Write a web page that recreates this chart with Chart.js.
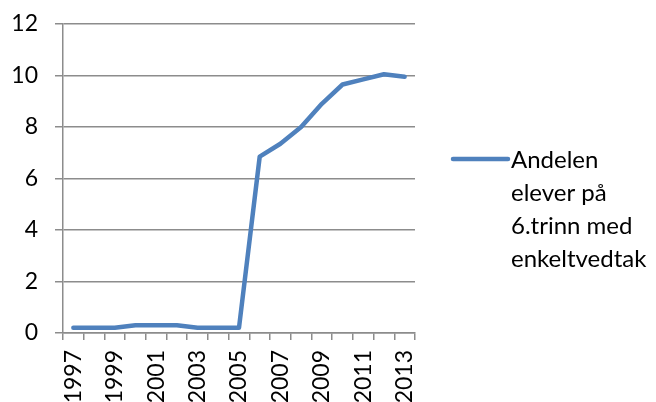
<!DOCTYPE html>
<html>
<head>
<meta charset="utf-8">
<script src="https://cdn.jsdelivr.net/npm/chart.js@4.4.0/dist/chart.umd.min.js"></script>
<style>
  html, body { margin: 0; padding: 0; background: #ffffff; }
  #wrap { width: 656px; height: 402px; }
</style>
</head>
<body>
<div id="wrap"><canvas id="c" width="656" height="402"></canvas></div>
<script>
// Skoleår og andel elever (prosent)
const years = ['1997','1998','1999','2000','2001','2002','2003','2004','2005',
               '2006','2007','2008','2009','2010','2011','2012','2013'];
const andel = [0.2, 0.2, 0.2, 0.3, 0.3, 0.3, 0.2, 0.2, 0.2,
               6.85, 7.35, 8.0, 8.9, 9.65, 9.85, 10.05, 9.95];
const seriesLines = ['Andelen', 'elever på', '6.trinn med', 'enkeltvedtak'];
const yTicks = [0, 2, 4, 6, 8, 10, 12];

const FONT = 'Lato, "Open Sans", sans-serif';
const GRID = '#8c8c8c';
const BLUE = '#4f81bd';

// Legend to the right of the plot, wrapped over several lines
const sideLegend = {
  id: 'sideLegend',
  afterDraw(chart) {
    const ctx = chart.ctx;
    const ds = chart.data.datasets[0];
    const x0 = chart.chartArea.right + 38;
    const y0 = 159;
    ctx.save();
    ctx.strokeStyle = ds.borderColor;
    ctx.lineWidth = ds.borderWidth;
    ctx.lineCap = 'round';
    ctx.beginPath();
    ctx.moveTo(x0, y0);
    ctx.lineTo(x0 + 55, y0);
    ctx.stroke();
    ctx.fillStyle = '#000';
    ctx.font = '24px ' + FONT;
    ctx.textBaseline = 'middle';
    ctx.textAlign = 'left';
    seriesLines.forEach((t, i) => ctx.fillText(t, x0 + 58, y0 + 1 + i * 33));
    ctx.restore();
  }
};

new Chart(document.getElementById('c'), {
  type: 'line',
  data: {
    labels: years,
    datasets: [{
      label: seriesLines.join(' '),
      data: andel,
      borderColor: BLUE,
      backgroundColor: BLUE,
      borderWidth: 4.5,
      pointRadius: 0,
      tension: 0,
      borderCapStyle: 'round',
      borderJoinStyle: 'round'
    }]
  },
  options: {
    responsive: false,
    animation: false,
    devicePixelRatio: 1,
    layout: { padding: { left: 0, top: 24, right: 241, bottom: 0 } },
    plugins: { legend: { display: false }, tooltip: { enabled: false } },
    scales: {
      x: {
        offset: true,
        grid: {
          offset: true,
          drawOnChartArea: false,
          drawTicks: true,
          tickLength: 7,
          color: GRID,
          lineWidth: 1.5
        },
        border: { color: GRID, width: 1.5 },
        ticks: {
          autoSkip: false,
          minRotation: 90,
          maxRotation: 90,
          padding: 10,
          color: '#000',
          font: { family: FONT, size: 23 },
          callback: (v, i) => (i % 2 === 0 ? years[i] : '')
        },
        afterFit: s => {
          s.height = 402 - 333;
          s.paddingLeft = 0;
          s.paddingRight = 0;
        }
      },
      y: {
        min: 0,
        max: 12,
        afterBuildTicks: s => { s.ticks = yTicks.map(v => ({ value: v })); },
        grid: {
          color: GRID,
          lineWidth: 1.5,
          drawTicks: true,
          tickLength: 8
        },
        border: { color: GRID, width: 1.5 },
        ticks: {
          color: '#000',
          padding: 17,
          font: { family: FONT, size: 23 }
        },
        afterFit: s => {
          s.width = 63;
          s.paddingTop = 0;
          s.paddingBottom = 0;
        }
      }
    }
  },
  plugins: [sideLegend]
});
</script>
</body>
</html>
